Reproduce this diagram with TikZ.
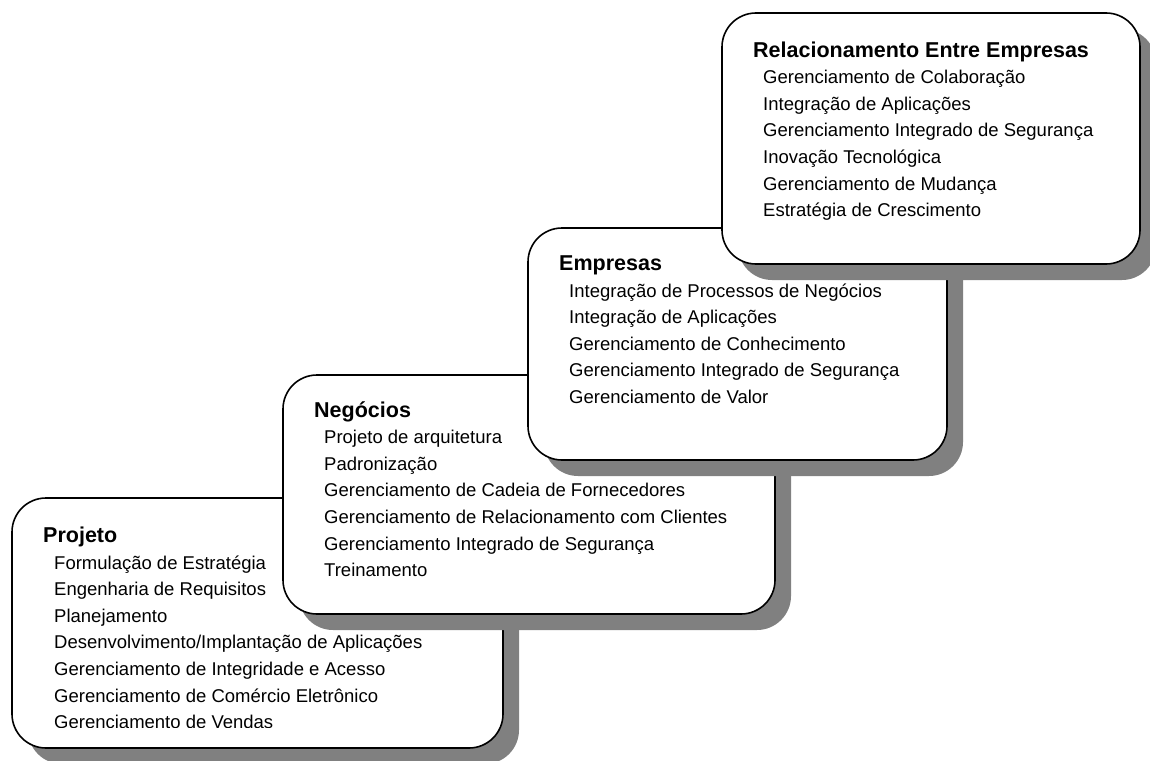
\documentclass[tikz,border=0pt]{standalone}
\usepackage{fontspec}
\setmainfont{Liberation Sans}
\usetikzlibrary{shadows}
\definecolor{shadowgray}{HTML}{808080}
\tikzset{
  stage/.style={draw=black, line width=1.6pt, fill=white, rounded corners=34pt,
    inner sep=0pt, outer sep=0pt, anchor=north west,
    drop shadow={shadow xshift=16pt, shadow yshift=-16pt, fill=shadowgray, opacity=1}},
  ttl/.style={anchor=base west, inner sep=0pt, font=\fontsize{21.5}{25}\selectfont\bfseries},
  itm/.style={anchor=base west, inner sep=0pt, font=\fontsize{18.5}{22}\selectfont},
}
\begin{document}
\begin{tikzpicture}[x=1pt,y=-1pt]
\useasboundingbox (0,0) rectangle (1150,760);

% Projeto
\node[stage, minimum width=491pt, minimum height=250pt] (proj) at (12,498) {};
\begin{scope}
\clip (12,498) rectangle (503,727);
\node[ttl] (proj-t) at (43,542.5) {Projeto};
\foreach \t [count=\i] in {Formulação de Estratégia, Engenharia de Requisitos, Planejamento, Desenvolvimento/Implantação de Aplicações, Gerenciamento de Integridade e Acesso, Gerenciamento de Comércio Eletrônico, Gerenciamento de Vendas}
  \node[itm] (proj-\i) at ({54},{542.5+26.6*\i}) {\t};
\end{scope}

% Negocios
\node[stage, minimum width=492pt, minimum height=239pt] (neg) at (283,375) {};
\node[ttl] (neg-t) at (314,417) {Negócios};
\foreach \t [count=\i] in {Projeto de arquitetura, Padronização, Gerenciamento de Cadeia de Fornecedores, Gerenciamento de Relacionamento com Clientes, Gerenciamento Integrado de Segurança, Treinamento}
  \node[itm] (neg-\i) at ({324},{417+26.6*\i}) {\t};

% Empresas
\node[stage, minimum width=419pt, minimum height=232pt] (emp) at (528,228) {};
\node[ttl] (emp-t) at (559,270.5) {Empresas};
\foreach \t [count=\i] in {Integração de Processos de Negócios, Integração de Aplicações, Gerenciamento de Conhecimento, Gerenciamento Integrado de Segurança, Gerenciamento de Valor}
  \node[itm] (emp-\i) at ({569},{270.5+26.6*\i}) {\t};

% Relacionamento Entre Empresas
\node[stage, minimum width=418pt, minimum height=251pt] (rel) at (722,13) {};
\node[ttl] (rel-t) at (753,57) {Relacionamento Entre Empresas};
\foreach \t [count=\i] in {Gerenciamento de Colaboração, Integração de Aplicações, Gerenciamento Integrado de Segurança, Inovação Tecnológica, Gerenciamento de Mudança, Estratégia de Crescimento}
  \node[itm] (rel-\i) at ({763},{57+26.6*\i}) {\t};
\end{tikzpicture}
\end{document}
